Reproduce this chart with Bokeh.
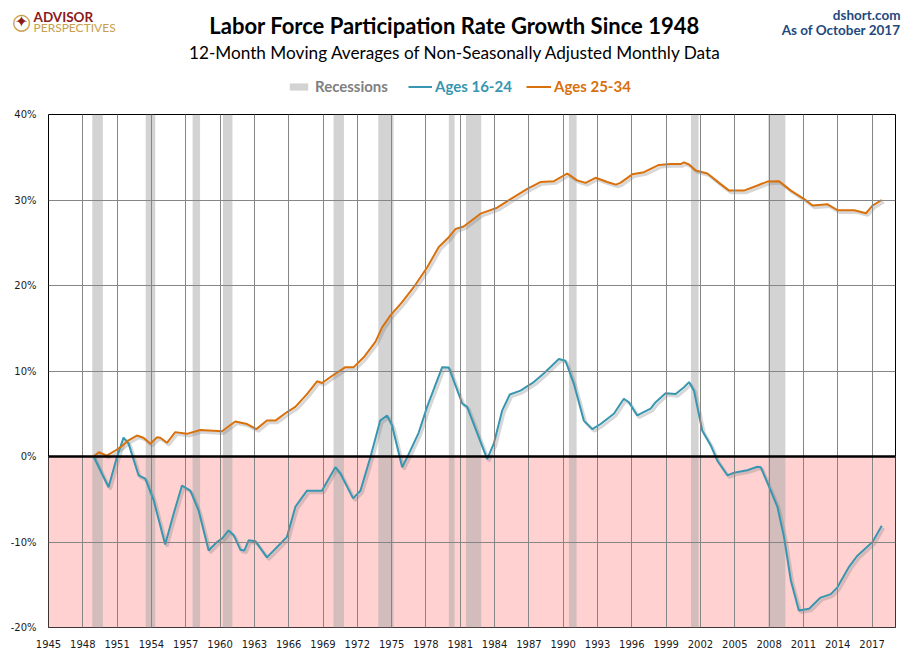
from bokeh.embed import file_html
from bokeh.layouts import column, row
from bokeh.models import (BoxAnnotation, FixedTicker, Label, Legend, LegendItem,
                          PrintfTickFormatter, Range1d, Span)
from bokeh.plotting import figure
from bokeh.resources import INLINE

# NBER recessions (decimal years)
rec_start = [1948.83, 1953.5, 1957.6, 1960.25, 1969.92, 1973.83, 1980.0, 1981.5, 1990.5, 2001.17, 2007.92]
rec_end = [1949.75, 1954.33, 1958.25, 1961.08, 1970.83, 1975.17, 1980.5, 1982.83, 1991.17, 2001.83, 2009.42]

# Ages 16-24, growth since 1948 (%)
young_x = [1948.94, 1950.25, 1950.98, 1951.56, 1952.0, 1952.87, 1953.46, 1954.19, 1955.2, 1955.94,
           1956.67, 1957.4, 1958.12, 1959.0, 1959.73, 1960.17, 1960.75, 1961.19, 1961.77, 1962.12,
           1962.5, 1963.08, 1964.1, 1965.27, 1965.85, 1966.58, 1967.6, 1968.9, 1970.08, 1970.52,
           1971.63, 1972.27, 1973.14, 1974.0, 1974.6, 1975.04, 1975.92, 1976.5, 1977.37, 1978.1,
           1979.42, 1980.0, 1981.17, 1981.6, 1983.35, 1983.93, 1984.67, 1985.33, 1986.27, 1987.43,
           1988.3, 1989.62, 1990.2, 1990.93, 1991.8, 1992.54, 1993.27, 1994.43, 1995.3, 1995.74,
           1996.47, 1997.64, 1998.08, 1998.95, 1999.83, 2000.56, 2001.0, 2001.43, 2002.16, 2002.9,
           2003.48, 2004.35, 2004.93, 2006.1, 2006.98, 2007.27, 2008.14, 2008.73, 2009.3, 2009.9,
           2010.6, 2011.5, 2012.5, 2013.4, 2013.97, 2014.99, 2015.72, 2017.04, 2017.85]
young_y = [0.0, -3.6, -0.1, 2.2, 1.5, -2.2, -2.6, -5.1, -10.3, -6.7,
           -3.4, -4.0, -6.3, -11.0, -10.0, -9.6, -8.65, -9.2, -10.9, -11.0,
           -9.8, -9.9, -11.8, -10.2, -9.4, -5.9, -4.0, -4.0, -1.25, -2.0,
           -4.9, -4.0, -0.1, 4.2, 4.8, 3.6, -1.25, 0.3, 2.8, 5.8,
           10.45, 10.4, 6.2, 5.8, -0.3, 1.5, 5.4, 7.25, 7.7, 8.7,
           9.7, 11.4, 11.2, 8.5, 4.2, 3.2, 3.8, 5.0, 6.75, 6.35,
           4.8, 5.6, 6.35, 7.4, 7.3, 8.1, 8.7, 7.7, 3.0, 1.3,
           -0.5, -2.2, -1.9, -1.6, -1.2, -1.25, -4.0, -5.9, -9.4, -14.5,
           -18.0, -17.8, -16.5, -16.1, -15.3, -12.9, -11.6, -10.0, -8.1]

# Ages 25-34, growth since 1948 (%)
prime_x = [1948.94, 1949.4, 1950.1, 1950.85, 1951.4, 1952.0, 1952.73, 1953.3, 1953.9, 1954.5,
           1954.77, 1955.36, 1956.08, 1957.1, 1958.27, 1960.17, 1961.33, 1962.36, 1963.17, 1964.1,
           1964.84, 1965.86, 1966.58, 1967.6, 1968.48, 1968.92, 1969.65, 1970.96, 1971.69, 1972.56,
           1973.58, 1974.17, 1974.9, 1975.92, 1976.93, 1978.1, 1979.12, 1980.0, 1980.58, 1981.3,
           1982.77, 1984.23, 1985.4, 1986.86, 1988.0, 1989.2, 1990.35, 1991.22, 1991.95, 1992.83,
           1993.85, 1994.6, 1995.0, 1996.04, 1997.06, 1998.37, 1999.4, 2000.27, 2000.56, 2001.0,
           2001.58, 2002.6, 2003.62, 2004.5, 2005.8, 2006.98, 2007.85, 2008.87, 2009.9, 2011.07,
           2011.8, 2013.11, 2013.99, 2015.44, 2016.47, 2017.04, 2017.85]
prime_y = [0.0, 0.5, 0.1, 0.7, 1.2, 1.9, 2.45, 2.2, 1.5, 2.25,
           2.2, 1.6, 2.85, 2.65, 3.1, 2.95, 4.1, 3.8, 3.2, 4.2,
           4.2, 5.2, 5.8, 7.3, 8.8, 8.6, 9.3, 10.45, 10.45, 11.6,
           13.4, 15.1, 16.5, 18.05, 19.8, 22.1, 24.5, 25.65, 26.6, 26.9,
           28.4, 29.1, 30.1, 31.3, 32.1, 32.2, 33.1, 32.3, 32.0, 32.6,
           32.1, 31.8, 32.0, 33.0, 33.25, 34.1, 34.2, 34.2, 34.4, 34.15,
           33.45, 33.1, 32.0, 31.1, 31.1, 31.7, 32.15, 32.2, 31.1, 30.1,
           29.35, 29.5, 28.8, 28.8, 28.45, 29.35, 30.0]

year_ticks = list(range(1945, 2018, 3))
pct_ticks = [-20, -10, 0, 10, 20, 30, 40]

TEAL = "#3796B0"
ORANGE = "#D8700C"
REC_FILL = "#A7A7A7"
W = 902
HEAD_H = 98
NAN = float("nan")

# ---- header strip: titles, logo, legend ----
head = figure(width=W, height=HEAD_H, output_backend="svg", toolbar_location=None,
              x_range=Range1d(0, W), y_range=Range1d(HEAD_H, 0),
              x_axis_type=None, y_axis_type=None, min_border=0)
head.outline_line_color = None


def note(x, y, text, size, colour, style="normal", align="left", font="Lato"):
    head.add_layout(Label(x=x, y=y, text=text, text_font=font, text_font_size=size,
                          text_color=colour, text_font_style=style, text_align=align,
                          text_baseline="middle"))


note(454, 25, "Labor Force Participation Rate Growth Since 1948", "22px", "black", "bold", "center")
note(455, 52, "12-Month Moving Averages of Non-Seasonally Adjusted Monthly Data", "17.2px", "black", "normal", "center")
note(900, 14, "dshort.com", "13.5px", "#1F497D", "bold", "right")
note(900, 29, "As of October 2017", "13.5px", "#1F497D", "bold", "right")
note(33, 16, "ADVISOR", "13.5px", "#8B1A1A", "bold")
note(33, 27, "PERSPECTIVES", "12px", "#C8A04A")
note(21, 21, "\u25CB", "22px", "#C8A04A", "normal", "center", "DejaVu Sans")
note(21, 21, "\u2726", "16px", "#8B1A1A", "normal", "center", "DejaVu Sans")

# key-only renderers (one NaN row so the legend has visuals to draw)
rec_key = head.quad(left=[NAN], right=[NAN], bottom=[NAN], top=[NAN],
                    fill_color=REC_FILL, fill_alpha=0.5, line_color=None)
young_key = head.line([NAN], [NAN], line_color=TEAL, line_width=2)
prime_key = head.line([NAN], [NAN], line_color=ORANGE, line_width=2)


def legend_box(label, rend, x, colour, gw, standoff):
    return Legend(items=[LegendItem(label=label, renderers=[rend])], location=(x, 3),
                  orientation="horizontal", border_line_color=None, background_fill_alpha=0,
                  padding=0, margin=0, spacing=0, glyph_width=gw, glyph_height=9,
                  label_standoff=standoff, label_height=14, label_text_font="Lato",
                  label_text_font_style="bold", label_text_font_size="15px",
                  label_text_color=colour, label_text_baseline="middle")


head.add_layout(legend_box("Recessions", rec_key, 287, "#808080", 23, 5))
head.add_layout(legend_box("Ages 16-24", young_key, 408, TEAL, 24, 3))
head.add_layout(legend_box("Ages 25-34", prime_key, 526, ORANGE, 25, 3))

# ---- main chart ----
p = figure(width=W, height=555, output_backend="svg", toolbar_location=None,
           x_range=Range1d(1945, 2019.05), y_range=Range1d(-20, 40),
           min_border_left=48, min_border_right=7, min_border_top=16, min_border_bottom=26)
p.outline_line_color = "black"
p.outline_line_width = 1

# negative territory shaded pink
p.add_layout(BoxAnnotation(top=0, fill_color="#FFD1D1", fill_alpha=1, line_color=None, level="image"))

p.quad(left=rec_start, right=rec_end, bottom=-20, top=40,
       fill_color=REC_FILL, fill_alpha=0.5, line_color=None, level="underlay")

# grid sits above the recession bands
p.xgrid.ticker = FixedTicker(ticks=year_ticks)
p.ygrid.ticker = FixedTicker(ticks=pct_ticks)
for g in (p.xgrid[0], p.ygrid[0]):
    g.grid_line_color = "#868686"
    g.grid_line_width = 1
    g.level = "glyph"

p.add_layout(Span(location=0, dimension="width", line_color="black", line_width=2.5, level="glyph"))

# soft drop shadows under the lines
sx, sy = 0.17, -0.25
p.line([x + sx for x in young_x], [y + sy for y in young_y], line_color="#7a7a7a", line_alpha=0.3, line_width=3)
p.line([x + sx for x in prime_x], [y + sy for y in prime_y], line_color="#7a7a7a", line_alpha=0.3, line_width=3)

p.line(young_x, young_y, line_color=TEAL, line_width=2)
p.line(prime_x, prime_y, line_color=ORANGE, line_width=2)

# axes
p.xaxis.ticker = FixedTicker(ticks=year_ticks)
p.yaxis.ticker = FixedTicker(ticks=pct_ticks)
p.yaxis.formatter = PrintfTickFormatter(format="%d%%")
for ax in (p.xaxis[0], p.yaxis[0]):
    ax.axis_line_color = None
    ax.major_tick_line_color = None
    ax.minor_tick_line_color = None
    ax.major_tick_out = 0
    ax.major_tick_in = 0
    ax.major_label_text_font = "DejaVu Sans"
    ax.major_label_text_font_size = "10px"
    ax.major_label_text_color = "#1a1a1a"
p.xaxis.major_label_standoff = 12
p.yaxis.major_label_standoff = 12

# header wrapped in a row so its frame is not aligned with the chart's frame
layout = column(row(head), p, spacing=0)
open("out.html", "w").write(file_html(layout, INLINE))
